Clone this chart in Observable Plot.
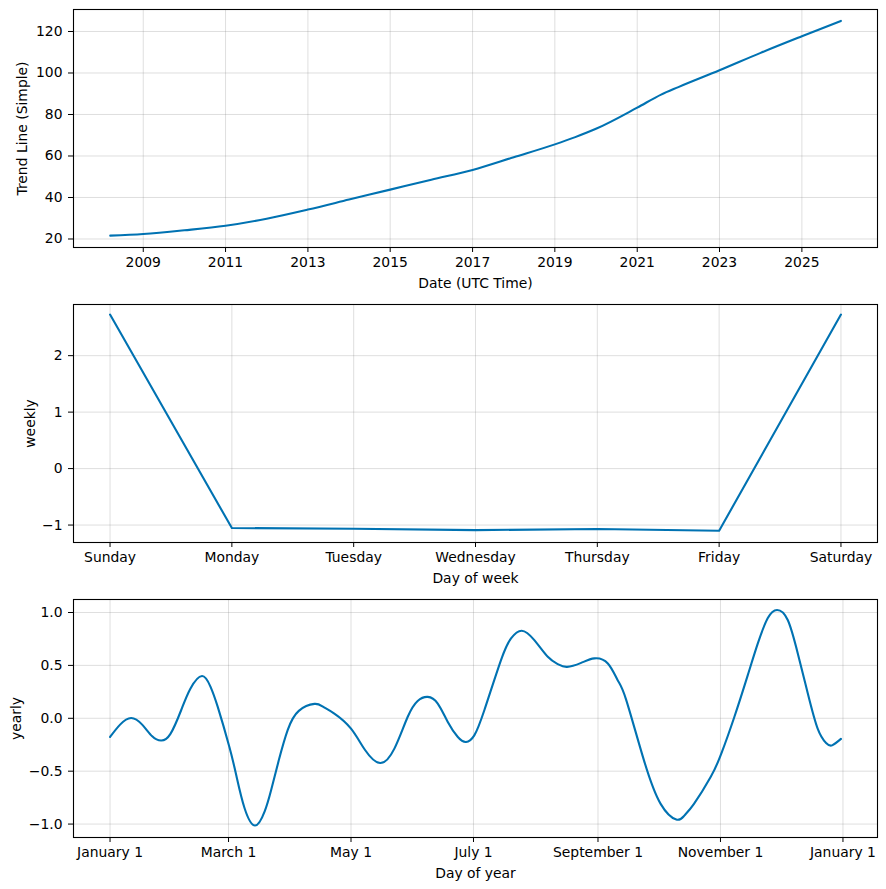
<!DOCTYPE html>
<html>
<head>
<meta charset="utf-8">
<script src="https://cdn.jsdelivr.net/npm/d3@7"></script>
<script src="https://cdn.jsdelivr.net/npm/@observablehq/plot@0.6"></script>
<style>
  html, body { margin: 0; padding: 0; background: #fff; }
  #chart svg { display: block; }
</style>
</head>
<body>
<div id="chart"></div>
<script>
// ---- Trend panel data ----
const trendDates = ["2008-03-14","2009-01-01","2010-01-01","2011-01-01","2012-01-01","2013-01-01","2014-01-01","2015-01-01","2016-01-01","2017-01-01","2018-01-01","2019-01-01","2019-07-01","2020-01-01","2021-01-01","2021-08-01","2022-01-01","2023-01-01","2024-01-01","2025-01-01","2025-12-13"];
const trendValues = [21.6,22.4,24.2,26.4,29.8,34.2,39.0,43.8,48.6,53.3,59.4,65.6,69.1,73.1,83.3,89.6,93.2,101.3,109.7,117.7,125.1];
const trendTickYears = [2009,2011,2013,2015,2017,2019,2021,2023,2025];
const trendYTicks = [20,40,60,80,100,120];

// ---- Weekly panel data ----
const weekDays = ["Sunday","Monday","Tuesday","Wednesday","Thursday","Friday","Saturday"];
const weeklyValues = [2.728,-1.053,-1.065,-1.09,-1.07,-1.10,2.728];
const weeklyYTicks = [-1,0,1,2];

// ---- Yearly panel data (day offset from January 1) ----
const yearlyDays = [0,5,10.5,16,21,25.4,30,35.4,40,45.8,50,53.6,59.4,63,67,72.2,77,80.2,84,88.5,94,101.8,106,111.7,120,127,134.5,141.6,148.2,153.2,158.2,163.2,168.2,173.2,177.3,181.4,186.4,194.7,199.7,205,211.3,218,223,227.6,234.6,241.2,247.9,252.8,257,265.9,274.2,282,286,290.8,299.1,304.4,310.9,317.6,322.6,327.5,332.2,337.5,342.5,347.5,352.4,356.6,359.6,364];
const yearlyValues = [-0.177,-0.06,0.003,-0.06,-0.17,-0.21,-0.15,0.076,0.28,0.40,0.30,0.11,-0.27,-0.55,-0.85,-1.014,-0.88,-0.68,-0.40,-0.11,0.07,0.136,0.11,0.044,-0.098,-0.30,-0.423,-0.287,0.012,0.164,0.202,0.139,-0.035,-0.177,-0.224,-0.161,0.076,0.55,0.755,0.828,0.739,0.581,0.512,0.486,0.524,0.566,0.518,0.36,0.177,-0.398,-0.809,-0.957,-0.92,-0.809,-0.556,-0.335,0.012,0.408,0.708,0.945,1.024,0.929,0.613,0.234,-0.098,-0.234,-0.256,-0.195];
const yearlyTickDates = ["2017-01-01","2017-03-01","2017-05-01","2017-07-01","2017-09-01","2017-11-01","2018-01-01"];
const yearlyYTicks = [-1.0,-0.5,0.0,0.5,1.0];

const LINE = "#0072B2";
const FONT = 13.9;
const minus = (s) => String(s).replace("-", "\u2212");

function panel({height, x, y, data, xKey, yKey, curve, xTicks, xFormat, yTicks, yFormat, xLabel, yLabel, yLabelOffset}) {
  return Plot.plot({
    width: 886,
    height,
    marginLeft: 73,
    marginRight: 9,
    marginTop: 9,
    marginBottom: height - 247,
    style: {fontFamily: "DejaVu Sans", fontSize: FONT + "px", color: "black", background: "white", overflow: "visible"},
    x, y,
    marks: [
      Plot.gridX(xTicks, {stroke: "gray", strokeOpacity: 0.25, strokeWidth: 1}),
      Plot.gridY(yTicks, {stroke: "gray", strokeOpacity: 0.25, strokeWidth: 1}),
      Plot.line(data, {x: xKey, y: yKey, stroke: LINE, strokeWidth: 2.1, curve}),
      Plot.frame({stroke: "black", strokeWidth: 1.1}),
      Plot.axisX(xTicks, {tickSize: 5, tickPadding: 5, tickFormat: xFormat, fontSize: FONT,
        label: xLabel, labelAnchor: "center", labelArrow: "none", labelOffset: 40}),
      Plot.axisY(yTicks, {tickSize: 5, tickPadding: 6, tickFormat: yFormat, fontSize: FONT,
        label: yLabel, labelAnchor: "center", labelArrow: "none", labelOffset: yLabelOffset})
    ]
  });
}

const trendData = trendDates.map((d, i) => ({date: new Date(d + "T00:00:00Z"), value: trendValues[i]}));
const weeklyData = weekDays.map((d, i) => ({i, value: weeklyValues[i]}));
const yearStart = new Date("2017-01-01T00:00:00Z");
const yearlyData = yearlyDays.map((d, i) => ({date: new Date(+yearStart + d * 864e5), value: yearlyValues[i]}));

const chart = document.getElementById("chart");

chart.append(panel({
  height: 295,
  data: trendData, xKey: "date", yKey: "value", curve: "monotone-x",
  x: {type: "utc", domain: [new Date("2007-04-23T00:00:00Z"), new Date("2026-11-03T00:00:00Z")]},
  y: {domain: [15.9, 130.6]},
  xTicks: trendTickYears.map(y => new Date(Date.UTC(y, 0, 1))),
  xFormat: d3.utcFormat("%Y"),
  yTicks: trendYTicks, yFormat: d => String(d),
  xLabel: "Date (UTC Time)", yLabel: "Trend Line (Simple)", yLabelOffset: 56
}));

chart.append(panel({
  height: 295,
  data: weeklyData, xKey: "i", yKey: "value", curve: "linear",
  x: {type: "linear", domain: [-0.3, 6.3]},
  y: {domain: [-1.309, 2.906]},
  xTicks: weekDays.map((d, i) => i),
  xFormat: i => weekDays[i],
  yTicks: weeklyYTicks, yFormat: d => minus(d),
  xLabel: "Day of week", yLabel: "weekly", yLabelOffset: 48
}));

chart.append(panel({
  height: 299,
  data: yearlyData, xKey: "date", yKey: "value", curve: "natural",
  x: {type: "utc", domain: [new Date(+yearStart - 18.2 * 864e5), new Date(+yearStart + 382.2 * 864e5)]},
  y: {domain: [-1.127, 1.123]},
  xTicks: yearlyTickDates.map(d => new Date(d + "T00:00:00Z")),
  xFormat: d3.utcFormat("%B %-d"),
  yTicks: yearlyYTicks, yFormat: d => minus(d.toFixed(1)),
  xLabel: "Day of year", yLabel: "yearly", yLabelOffset: 62
}));
</script>
</body>
</html>
